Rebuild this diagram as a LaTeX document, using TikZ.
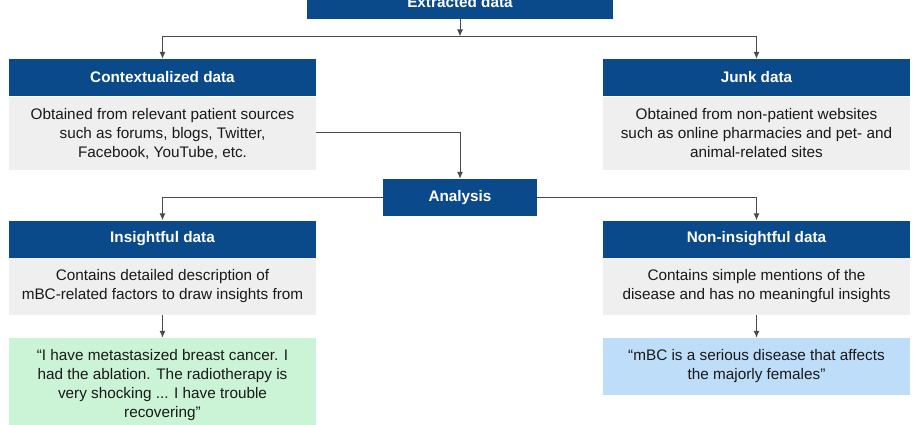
\documentclass[tikz,border=0pt]{standalone}
\usepackage{fontspec}
\setmainfont{Liberation Sans}
\usepackage{tikz}
\usetikzlibrary{arrows.meta}
\usepackage{xcolor}

\definecolor{headblue}{HTML}{0B4A8A}
\definecolor{bodygray}{HTML}{EFEFEF}
\definecolor{quotegreen}{HTML}{CBF3D6}
\definecolor{quoteblue}{HTML}{BEDDF8}
\definecolor{linegray}{HTML}{4A4A4A}

\begin{document}
\begin{tikzpicture}[x=1pt,y=-1pt,
                    font=\fontsize{15.3}{19}\selectfont
                    ]
                % define styles
\tikzset{head/.style={rectangle,
                       fill=headblue,
                       text=white,
                       font=\fontsize{15.3}{19}\selectfont\bfseries,
                       inner sep=0,
                       minimum width=307pt,
                       minimum height=37pt,
                       },
         body/.style={rectangle,
                       fill=bodygray,
                       text=black!90,
                       align=center,
                       inner sep=0,
                       minimum width=307pt,
                       },
         link/.style={draw=linegray,
                       line width=1pt,
                       -{Latex[length=7pt,width=6pt]},
                       }
}

\useasboundingbox (0,0) rectangle (920,425);
\clip (0,0) rectangle (920,425);

% top box
\node[head, minimum width=306pt, minimum height=34pt] (extr) at (460,2) {Extracted data};

% first split
\node[head] (ctxhead)  at (162.5,77.5) {Contextualized data};
\node[body, minimum height=73pt] (ctxbody) at (162.5,133.5)
    {Obtained from relevant patient sources\\
     such as forums, blogs, Twitter,\\
     Facebook, YouTube, etc.};

\node[head] (junkhead) at (756.5,77.5) {Junk data};
\node[body, minimum height=73pt] (junkbody) at (756.5,133.5)
    {Obtained from non-patient websites\\
     such as online pharmacies and pet- and\\
     animal-related sites};

% analysis
\node[head, minimum width=154pt] (ana) at (460,197.5) {Analysis};

% second split
\node[head] (inshead)  at (162.5,239) {Insightful data};
\node[body, minimum height=57pt] (insbody) at (162.5,286.5)
    {Contains detailed description of\\
     mBC-related factors to draw insights from};

\node[head] (nonhead) at (756.5,239) {Non-insightful data};
\node[body, minimum height=57pt] (nonbody) at (756.5,286.5)
    {Contains simple mentions of the\\
     disease and has no meaningful insights};

% quotes
\node[body, fill=quotegreen, minimum height=94pt] (insquote) at (162.5,385)
    {“I have metastasized breast cancer. I\\
     had the ablation. The radiotherapy is\\
     very shocking ... I have trouble\\
     recovering”};
\node[body, fill=quoteblue, minimum height=57pt] (nonquote) at (756.5,366.5)
    {“mBC is a serious disease that affects\\
     the majorly females”};

% connectors
\coordinate (split) at (460,36.5);
\draw[link] (extr.south) -- (split);
\draw[link] (split) -| (ctxhead.north);
\draw[link] (split) -| (junkhead.north);

\draw[link] (ctxbody.east |- 0,132) -| (ana.north);

\draw[link] (ana.west) -| (inshead.north);
\draw[link] (ana.east) -| (nonhead.north);

\draw[link] (insbody.south) -- (insquote.north);
\draw[link] (nonbody.south) -- (nonquote.north);

\end{tikzpicture}
\end{document}
